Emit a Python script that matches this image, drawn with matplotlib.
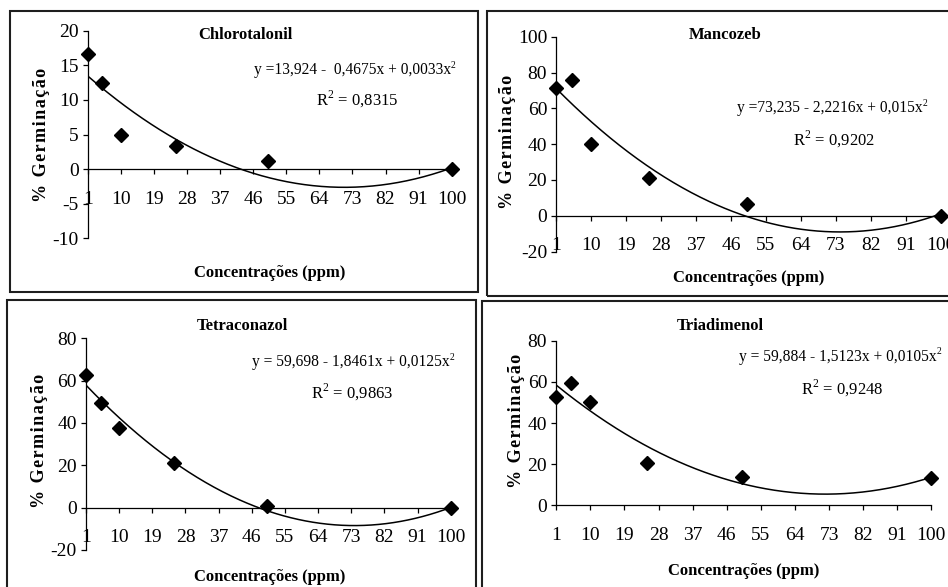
import numpy as np
import matplotlib
matplotlib.use("Agg")
import matplotlib.pyplot as plt
from matplotlib.patches import Rectangle

plt.rcParams['font.family'] = ['Liberation Serif', 'DejaVu Serif']
plt.rcParams['mathtext.fontset'] = 'custom'
plt.rcParams['mathtext.rm'] = 'Liberation Serif'
plt.rcParams['axes.unicode_minus'] = False

# concentrations (ppm) and % germination for each fungicide
conc = [1, 5, 10, 25, 50, 100]
names = ['Chlorotalonil', 'Mancozeb', 'Tetraconazol', 'Triadimenol']
chlorotalonil = [16.6, 12.4, 5.0, 3.4, 1.1, 0.0]
mancozeb = [71.1, 75.8, 40.0, 20.9, 6.7, 0.0]
tetraconazol = [62.5, 49.3, 37.7, 21.1, 0.9, 0.0]
triadimenol = [52.8, 59.4, 50.0, 20.6, 13.9, 13.1]

# quadratic fits: a + b*x + c*x^2
coef_chl = [13.924, -0.4675, 0.0033]
coef_man = [73.235, -2.2216, 0.015]
coef_tet = [59.698, -1.8461, 0.0125]
coef_tri = [59.884, -1.5123, 0.0105]
r2 = ['0,8315', '0,9202', '0,9863', '0,9248']
eq_labels = ['y =13,924 -  0,4675x + 0,0033x',
             'y =73,235 - 2,2216x + 0,015x',
             'y = 59,698 - 1,8461x + 0,0125x',
             'y = 59,884 - 1,5123x + 0,0105x']

W, H = 948, 587
fig = plt.figure(figsize=(W / 100, H / 100), dpi=100)


def fx(x):
    return x / W


def fy(y):
    return 1 - y / H


def box(l, t, r, b):
    fig.patches.append(Rectangle((fx(l), fy(b)), fx(r - l), (b - t) / H,
                                 transform=fig.transFigure, fill=False,
                                 ec='#1e1e1e', lw=1.5))


def squared(x, y, text, size=11.2):
    # plain text followed by a small raised "2"
    t = fig.text(fx(x), fy(y), text, ha='center', va='center', fontsize=size)
    fig.canvas.draw()
    bb = t.get_window_extent()
    t.set_x(t.get_position()[0] - 3 / W)
    fig.text((bb.x1 - 3) / W, (bb.y1 - 3) / H, '2', ha='left', va='center',
             fontsize=size * 0.62)


# panel layout in pixels: box, plot area, y range, text anchors
panels = [
    dict(box=(10, 11, 478, 292), area=(87.7, 30.7, 451.7, 238.3), ylim=(-10, 20, 5),
         title=(245, 35), eq=(355.5, 70), r2=(357, 99), xl=(270, 273), yl=(42, 135)),
    dict(box=(487, 11, 960, 296), area=(556.3, 36.7, 940.7, 251.6), ylim=(-20, 100, 20),
         title=(724.7, 35), eq=(832.7, 108), r2=(834, 139), xl=(749, 278), yl=(507.3, 141.7)),
    dict(box=(7, 300, 476, 600), area=(86, 338.3, 450.7, 550), ylim=(-20, 80, 20),
         title=(242.7, 325.7), eq=(353.8, 362.3), r2=(351.7, 392.3), xl=(270, 576.7), yl=(39.3, 440.7)),
    dict(box=(482, 301, 960, 600), area=(556.3, 340.7, 931.3, 505.3), ylim=(0, 80, 20),
         title=(720.7, 325.7), eq=(840.7, 356.7), r2=(842.3, 388), xl=(744, 571.3), yl=(516.7, 420.7)),
]
series = [chlorotalonil, mancozeb, tetraconazol, triadimenol]
coefs = [coef_chl, coef_man, coef_tet, coef_tri]

ylabel = '\u200a'.join('% Germinação')
xx = np.linspace(1, 100, 300)

for p, name, ys, (a, b, c), eq, rr in zip(panels, names, series, coefs, eq_labels, r2):
    box(*p['box'])
    l, t, r, btm = p['area']
    ax = fig.add_axes([fx(l), fy(btm), fx(r - l), (btm - t) / H])
    ymin, ymax, step = p['ylim']
    ax.set_xlim(1, 100)
    ax.set_ylim(ymin, ymax)
    ax.set_xticks(range(1, 101, 9))
    ax.set_yticks(np.arange(ymin, ymax + 1, step))
    for s in ('top', 'right'):
        ax.spines[s].set_visible(False)
    ax.spines['bottom'].set_position(('data', 0))
    for s in ('bottom', 'left'):
        ax.spines[s].set_linewidth(0.9)
    ax.patch.set_alpha(0)
    ax.tick_params(axis='both', direction='out', length=3.6, width=0.9,
                   labelsize=14, color='black')
    ax.tick_params(axis='x', pad=12)
    ax.tick_params(axis='y', pad=3)

    ax.plot(xx, a + b * xx + c * xx ** 2, color='black', lw=1.1, zorder=2)
    ax.plot(conc, ys, 'D', color='black', ms=7.5, clip_on=False, zorder=3)

    fig.text(fx(p['title'][0]), fy(p['title'][1]), name, ha='center', va='center',
             fontsize=12, fontweight='bold')
    fig.text(fx(p['r2'][0]), fy(p['r2'][1]), 'R$^2$ = ' + rr, ha='center', va='center',
             fontsize=12)
    squared(p['eq'][0], p['eq'][1], eq)
    fig.text(fx(p['xl'][0]), fy(p['xl'][1]), 'Concentrações (ppm)', ha='center',
             va='center', fontsize=12, fontweight='bold')
    fig.text(fx(p['yl'][0]), fy(p['yl'][1]), ylabel, ha='center', va='center',
             rotation=90, fontsize=13, fontweight='bold')

fig.savefig('out.png', dpi=100, facecolor='white')
